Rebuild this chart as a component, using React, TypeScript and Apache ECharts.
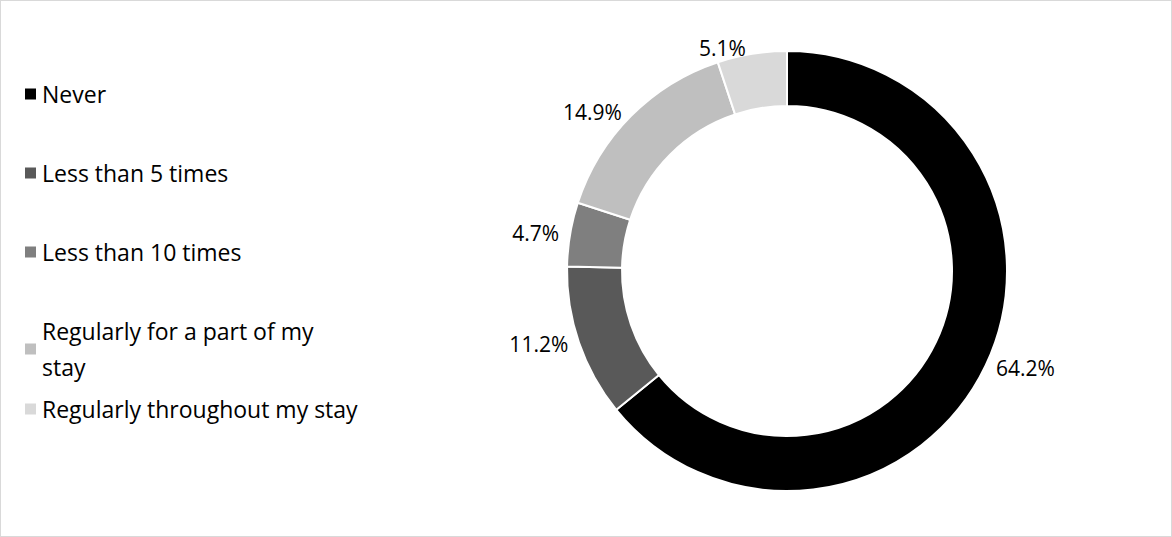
import React, { useEffect, useRef } from "react";
import * as echarts from "echarts";

const categories = [
  "Never",
  "Less than 5 times",
  "Less than 10 times",
  "Regularly for a part of my stay",
  "Regularly throughout my stay",
];
const values = [64.2, 11.2, 4.7, 14.9, 5.1];
const colors = ["#000000", "#595959", "#7f7f7f", "#bfbfbf", "#d9d9d9"];
const legendLabels = [
  "Never",
  "Less than 5 times",
  "Less than 10 times",
  "Regularly for a part of my\nstay",
  "Regularly throughout my stay",
];
const legendTops = [70, 149, 228, 307, 385];

const App = () => {
  const chartContainer = useRef<HTMLDivElement>(null);

  useEffect(() => {
    if (!chartContainer.current) return;
    const chart = echarts.init(chartContainer.current, null, { renderer: "svg" });
    const font = "'Open Sans', 'Noto Sans', sans-serif";

    const option: echarts.EChartsOption = {
      animation: false,
      color: colors,
      legend: categories.map((name, i) => ({
        data: [name],
        left: 17,
        top: legendTops[i],
        orient: "vertical",
        icon: "rect",
        itemWidth: 13,
        itemHeight: 13,
        itemGap: 6,
        selectedMode: false,
        formatter: () => legendLabels[i],
        textStyle: { fontFamily: font, fontSize: 23, color: "#000", lineHeight: 36 },
      })),
      series: [
        {
          type: "pie",
          center: [786, 270],
          radius: [165, 220],
          startAngle: 90,
          clockwise: true,
          itemStyle: { borderColor: "#fff", borderWidth: 2 },
          label: {
            show: true,
            position: "outside",
            formatter: "{c}%",
            fontFamily: font,
            fontSize: 21,
            color: "#000",
          },
          labelLine: { show: false, length: 6, length2: 0 },
          emphasis: { disabled: true },
          data: categories.map((name, i) => ({ name, value: values[i] })),
        },
      ],
    };
    chart.setOption(option);
    return () => chart.dispose();
  }, []);

  return (
    <div
      ref={chartContainer}
      style={{
        position: "fixed",
        left: 0,
        top: 0,
        width: 1172,
        height: 537,
        boxSizing: "border-box",
        border: "1px solid #d9d9d9",
        background: "#fff",
      }}
    />
  );
};

export default App;
